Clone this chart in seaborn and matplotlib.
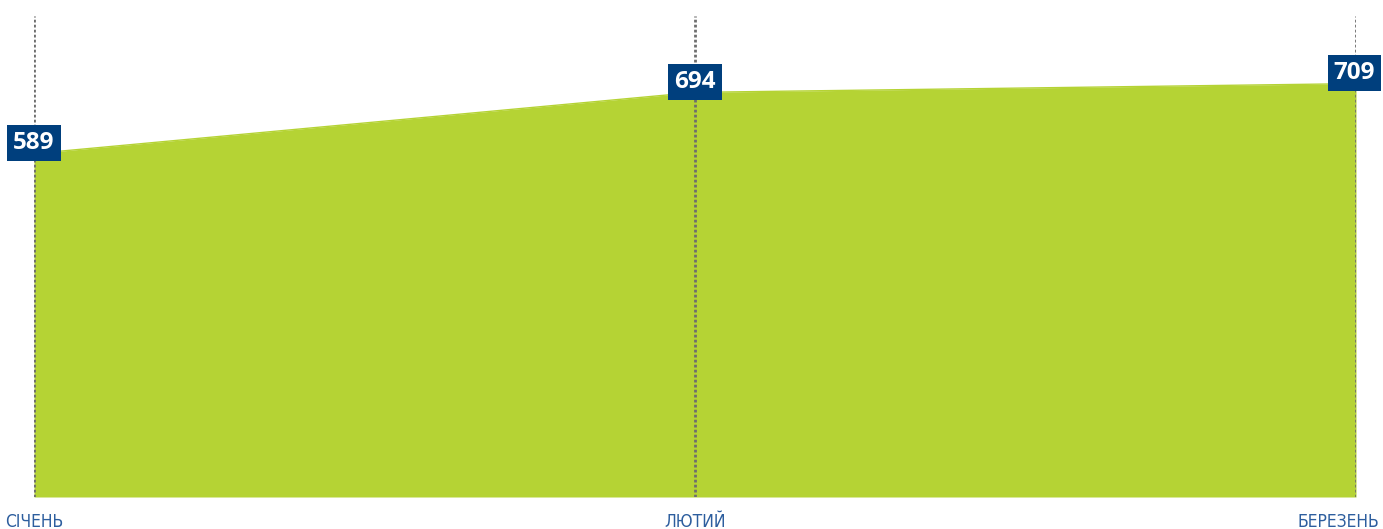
import matplotlib
matplotlib.use("Agg")
import matplotlib.pyplot as plt
import seaborn as sns
import pandas as pd

months = ["СІЧЕНЬ", "ЛЮТИЙ", "БЕРЕЗЕНЬ"]
values = [589, 694, 709]

green = "#b5d334"
navy = "#003f7d"
label_blue = "#2d5e9e"

sns.set_style("white")
plt.rcParams["font.family"] = ["DejaVu Sans"]

df = pd.DataFrame({"pos": range(len(months)), "value": values})

fig = plt.figure(figsize=(13.83, 5.29), dpi=100)
ax = fig.add_axes([34 / 1383, 1 - 497 / 529, (1356 - 34) / 1383, (497 - 16) / 529])

ax.fill_between(df["pos"], 0, df["value"], color=green, linewidth=0, zorder=1)
sns.lineplot(data=df, x="pos", y="value", color=green, linewidth=1, ax=ax, zorder=2)

for p in df["pos"]:
    ax.axvline(p, color="#6e6e6e", linestyle=(0, (1, 0.8)), linewidth=2, zorder=3)

ax.set_xlim(0, len(months) - 1)
ax.set_ylim(0, 825)
for s in ax.spines.values():
    s.set_visible(False)
ax.set_yticks([])
ax.set_xticks([])
ax.set_xlabel("")
ax.set_ylabel("")

# month labels under each vertical line; the last one kept inside the figure
for p, name in zip(df["pos"], months):
    last = p == len(months) - 1
    ax.annotate(name, xy=(p, 0), xytext=(17 if last else 0, -18), textcoords="offset points",
                ha="right" if last else "center", va="center", fontsize=12.5, color=label_blue,
                family="DejaVu Sans", stretch="condensed", annotation_clip=False)

for p, v in zip(df["pos"], df["value"]):
    dx = -1 if p == len(months) - 1 else 0
    ax.annotate(str(v), xy=(p, v), xytext=(dx, 7.5),
                textcoords="offset points", ha="center", va="center",
                fontsize=17.5, fontweight="bold", color="white", zorder=5,
                family="Open Sans",
                bbox=dict(boxstyle="square,pad=0.24", fc=navy, ec="none"),
                annotation_clip=False)

fig.savefig("out.png", dpi=100)
